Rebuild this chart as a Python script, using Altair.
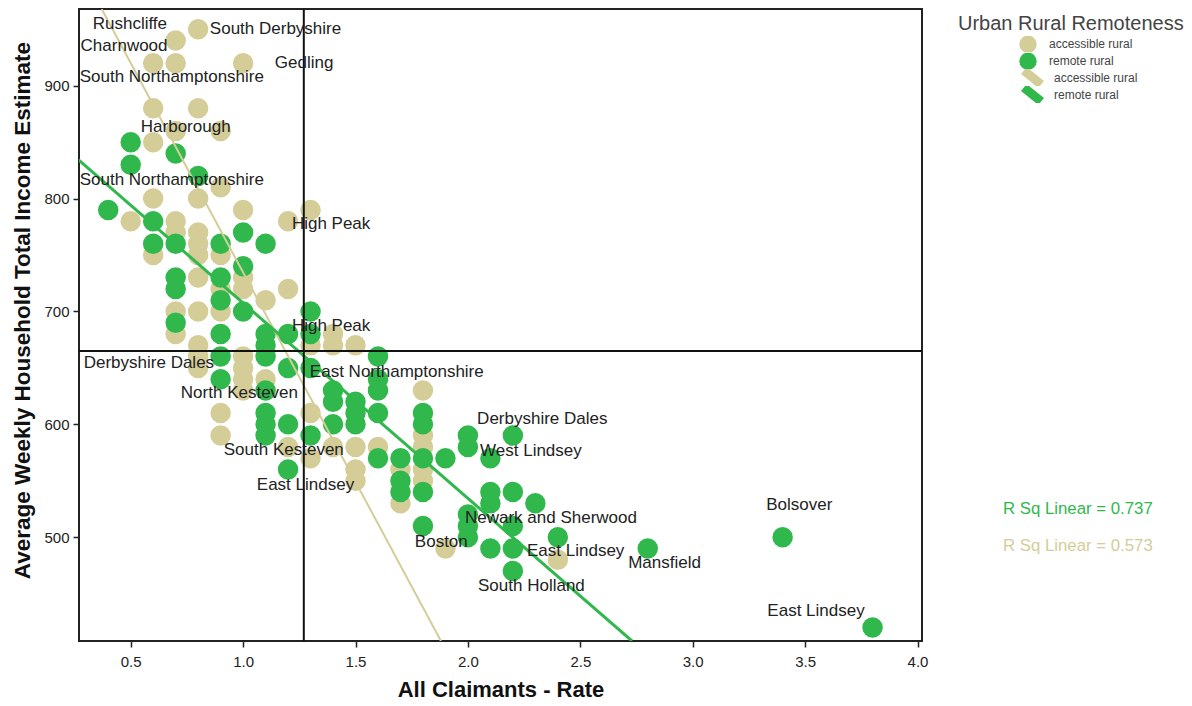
import altair as alt
import pandas as pd

# ---------------- data ----------------
groups = ["accessible rural", "remote rural"]
colors = ["#d4cd98", "#30b84d"]

acc_x = [0.8, 0.7, 0.6, 0.7, 1.0, 0.6, 0.8, 0.7, 0.9, 0.6, 0.9, 0.6, 0.8, 1.0, 1.3,
         0.5, 0.7, 1.2, 0.7, 0.8, 0.8, 0.6, 0.8, 0.9, 1.0, 0.8, 0.9, 1.0, 1.2, 1.1,
         0.7, 0.8, 0.9, 0.7, 0.8, 1.3, 1.4, 1.4, 1.5, 0.8, 1.0, 0.8, 1.0, 1.0, 1.1,
         1.0, 0.9, 0.9, 1.3, 1.2, 1.3, 1.4, 1.5, 1.6, 1.5, 1.5, 1.8, 1.8, 1.8, 1.8,
         1.8, 1.7, 1.7, 1.9, 2.4]
acc_y = [950, 940, 920, 920, 920, 880, 880, 860, 860, 850, 810, 800, 800, 790, 790,
         780, 780, 780, 770, 770, 760, 750, 750, 750, 730, 730, 720, 720, 720, 710,
         700, 700, 700, 680, 670, 670, 680, 670, 670, 660, 660, 650, 650, 640, 640,
         630, 610, 590, 610, 580, 570, 580, 580, 580, 560, 550, 630, 590, 580, 560,
         550, 560, 530, 490, 480]

rem_x = [0.5, 0.7, 0.5, 0.8, 0.4, 0.6, 1.0, 0.6, 0.7, 0.9, 1.1, 1.0, 0.7, 0.9, 0.7,
         0.9, 1.0, 1.3, 0.7, 0.9, 1.1, 1.2, 1.3, 1.1, 0.9, 1.1, 1.6, 1.2, 1.3, 0.9,
         1.6, 1.1, 1.4, 1.6, 1.4, 1.5, 1.1, 1.5, 1.6, 1.8, 1.1, 1.2, 1.4, 1.5, 1.8,
         1.1, 1.3, 2.0, 2.2, 2.0, 1.6, 1.7, 1.8, 1.9, 2.1, 1.2, 1.7, 1.7, 1.8, 2.1,
         2.2, 2.1, 2.3, 2.0, 2.0, 1.8, 2.2, 2.0, 2.4, 2.1, 2.2, 2.2, 2.8, 3.4, 3.8]
rem_y = [850, 840, 830, 820, 790, 780, 770, 760, 760, 760, 760, 740, 730, 730, 720,
         710, 700, 700, 690, 680, 680, 680, 680, 670, 660, 660, 660, 650, 650, 640,
         640, 630, 630, 630, 620, 620, 610, 610, 610, 610, 600, 600, 600, 600, 600,
         590, 590, 590, 590, 580, 570, 570, 570, 570, 570, 560, 550, 540, 540, 540,
         540, 530, 530, 520, 510, 510, 510, 500, 500, 490, 490, 470, 490, 500, 420]

label_text = ["Rushcliffe", "South Derbyshire", "Charnwood", "Gedling",
              "South Northamptonshire", "Harborough", "South Northamptonshire",
              "High Peak", "High Peak", "Derbyshire Dales", "East Northamptonshire",
              "North Kesteven", "Derbyshire Dales", "West Lindsey", "South Kesteven",
              "East Lindsey", "Bolsover", "Newark and Sherwood", "Boston",
              "East Lindsey", "Mansfield", "South Holland", "East Lindsey"]
label_x = [0.331, 0.852, 0.277, 1.141, 0.273, 0.545, 0.273, 1.217, 1.217, 0.291,
           1.297, 0.723, 2.041, 2.054, 0.914, 1.061, 3.327, 1.987, 1.764, 2.263,
           2.713, 2.045, 3.332]
label_y = [955.0, 950.6, 935.5, 920.4, 908.0, 863.6, 816.6, 777.5, 687.0, 654.2,
           646.2, 627.6, 604.5, 576.1, 577.0, 545.9, 528.2, 516.7, 495.4, 487.4,
           476.7, 456.3, 434.2]

# fit lines (end points) and their R squared
fit_acc_x = [0.371, 1.880]
fit_acc_y = [968.0, 408.0]
fit_rem_x = [0.268, 2.730]
fit_rem_y = [834.3, 408.0]
rsq_rem = [0.737]
rsq_acc = [0.573]

ref_x = [1.27]
ref_y = [665]

x_ticks = [0.5, 1.0, 1.5, 2.0, 2.5, 3.0, 3.5, 4.0]
y_ticks = [500, 600, 700, 800, 900]
x_domain = [0.27, 4.02]
y_domain = [408, 968]

legend_title = ["Urban Rural Remoteness"]

FONT = "Liberation Sans"

# ---------------- tables ----------------
pts = pd.DataFrame({
    "x": acc_x + rem_x,
    "y": acc_y + rem_y,
    "group": [groups[0]] * len(acc_x) + [groups[1]] * len(rem_x),
})
fits = pd.DataFrame({
    "x": fit_acc_x + fit_rem_x,
    "y": fit_acc_y + fit_rem_y,
    "fit": [groups[0]] * len(fit_acc_x) + [groups[1]] * len(fit_rem_x),
})
labels = pd.DataFrame({"x": label_x, "y": label_y, "label": label_text})

xs = alt.Scale(domain=x_domain, nice=False, zero=False)
ys = alt.Scale(domain=y_domain, nice=False, zero=False)

x_axis = alt.Axis(values=x_ticks, format=".1f", grid=False, domain=False,
                  tickSize=6, tickColor="#222", tickWidth=1.5,
                  labelFont=FONT, labelFontSize=15, labelColor="#222", labelPadding=7,
                  title="All Claimants - Rate", titleFont=FONT, titleFontSize=22,
                  titleFontWeight="bold", titleColor="#111", titlePadding=10)
y_axis = alt.Axis(values=y_ticks, format="d", grid=False, domain=False,
                  tickSize=6, tickColor="#222", tickWidth=1.5,
                  labelFont=FONT, labelFontSize=15, labelColor="#222", labelPadding=4,
                  title="Average Weekly Household Total Income Estimate",
                  titleFont=FONT, titleFontSize=22.5, titleFontWeight="bold",
                  titleColor="#111", titlePadding=9, titleY=301)

points = alt.Chart(pts).mark_circle(size=420, opacity=1, strokeWidth=0).encode(
    x=alt.X("x:Q", scale=xs, axis=x_axis),
    y=alt.Y("y:Q", scale=ys, axis=y_axis),
    fill=alt.Fill("group:N", scale=alt.Scale(domain=groups, range=colors),
                  legend=alt.Legend(title=None, orient="none", legendX=940, legendY=27,
                                    symbolType="circle", symbolSize=300,
                                    symbolStrokeWidth=0, padding=0, rowPadding=0,
                                    clipHeight=16.5,
                                    labelFont=FONT, labelFontSize=12, labelColor="#444",
                                    labelOffset=12)),
)

lines = alt.Chart(fits).mark_line(clip=True, strokeCap="butt").encode(
    x=alt.X("x:Q"),
    y=alt.Y("y:Q"),
    detail="fit:N",
    stroke=alt.Stroke("fit:N", scale=alt.Scale(domain=groups, range=colors),
                      legend=alt.Legend(title=None, orient="none", legendX=940, legendY=60,
                                        symbolType="M-1,-0.8L1,0.8", symbolSize=300,
                                        symbolStrokeWidth=9, padding=0, rowPadding=0,
                                        clipHeight=17,
                                        labelFont=FONT, labelFontSize=12,
                                        labelColor="#444", labelOffset=8)),
    strokeWidth=alt.StrokeWidth("fit:N", scale=alt.Scale(domain=groups, range=[2, 3]),
                                legend=None),
)

vrule = alt.Chart(pd.DataFrame({"x": ref_x})).mark_rule(color="#111", strokeWidth=2).encode(
    x=alt.X("x:Q"))
hrule = alt.Chart(pd.DataFrame({"y": ref_y})).mark_rule(color="#111", strokeWidth=2).encode(
    y=alt.Y("y:Q"))

texts = alt.Chart(labels).mark_text(align="left", baseline="middle", font=FONT,
                                     fontSize=17, color="#222").encode(
    x=alt.X("x:Q"), y=alt.Y("y:Q"), text="label:N")

leg_title = alt.Chart(pd.DataFrame({"t": legend_title})).mark_text(
    align="left", baseline="middle", font=FONT, fontSize=20, color="#444",
    x=879, y=15).encode(text="t:N")

rsq1 = alt.Chart(pd.DataFrame({"r": rsq_rem})).transform_calculate(
    t="'R Sq Linear = ' + format(datum.r, '.3f')").mark_text(
    align="left", baseline="middle", font=FONT, fontSize=16.8, color=colors[1],
    x=924, y=500).encode(text="t:N")
rsq2 = alt.Chart(pd.DataFrame({"r": rsq_acc})).transform_calculate(
    t="'R Sq Linear = ' + format(datum.r, '.3f')").mark_text(
    align="left", baseline="middle", font=FONT, fontSize=16.8, color=colors[0],
    x=924, y=537).encode(text="t:N")

chart = alt.layer(points, lines, vrule, hrule, texts, leg_title, rsq1, rsq2).resolve_scale(
    fill="independent", stroke="independent"
).properties(
    width=843, height=632,
    padding={"left": 71, "top": 1, "right": 262, "bottom": 63},
    autosize=alt.AutoSizeParams(type="none"),
).configure_view(stroke="#222", strokeWidth=2)

chart.save("out.html", embed_options={"renderer": "svg", "actions": False})
